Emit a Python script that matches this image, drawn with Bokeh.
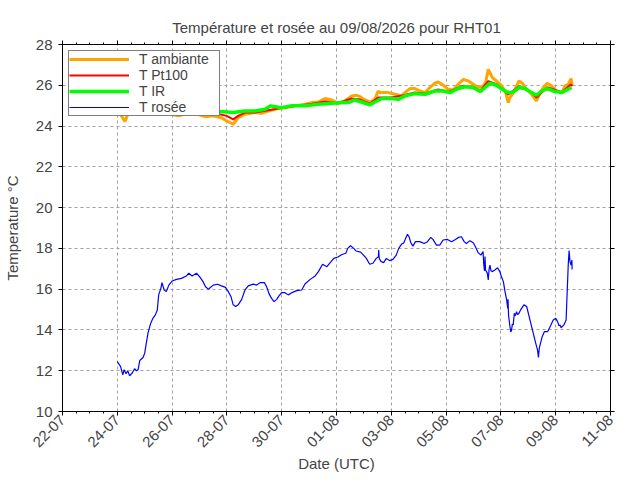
import math
import pandas as pd
from bokeh.plotting import figure
from bokeh.models import (ColumnDataSource, FixedTicker, DatetimeTickFormatter,
                          DatetimeAxis, LinearAxis, Range1d)
from bokeh.embed import file_html
from bokeh.resources import INLINE

# ---------------- data (days since 22-07-2026 00:00 UTC, °C) ----------------
base_date = "2026-07-22"

amb_days = [1.97, 2.05, 2.15, 2.28, 2.36, 2.45, 2.6, 2.8, 3.0, 3.2, 3.5, 3.74, 3.98,
            4.22, 4.47, 4.71, 4.95, 5.2, 5.5, 5.8, 5.99, 6.23, 6.41, 6.66, 7.02,
            7.26, 7.51, 7.87, 8.12, 8.48, 8.85, 9.09, 9.33, 9.58, 9.82, 10.06,
            10.3, 10.55, 10.73, 10.86, 11.04, 11.22, 11.4, 11.52, 11.58, 11.89,
            12.13, 12.38, 12.5, 12.68, 12.86, 13.05, 13.23, 13.41, 13.59, 13.71,
            13.9, 14.08, 14.26, 14.44, 14.63, 14.81, 14.99, 15.17, 15.36, 15.44,
            15.54, 15.6, 15.69, 15.84, 16.03, 16.17, 16.27, 16.33, 16.42, 16.51,
            16.66, 16.78, 16.94, 17.12, 17.3, 17.43, 17.55, 17.69, 17.85, 18.03,
            18.22, 18.34, 18.46, 18.56, 18.6]
amb_vals = [24.9, 24.74, 24.5, 24.22, 24.5, 24.8, 24.85, 24.85, 24.82, 24.8, 24.75,
            24.66, 24.58, 24.5, 24.58, 24.66, 24.58, 24.46, 24.5, 24.41, 24.25,
            24.09, 24.41, 24.58, 24.66, 24.63, 24.74, 24.86, 24.9, 24.99, 25.07,
            25.15, 25.18, 25.35, 25.28, 25.12, 25.23, 25.48, 25.51, 25.44, 25.28,
            25.18, 25.31, 25.72, 25.64, 25.64, 25.56, 25.48, 25.64, 25.84, 25.84,
            25.72, 25.64, 25.89, 26.1, 26.16, 26.0, 25.8, 25.77, 26.05, 26.29,
            26.21, 26.05, 25.89, 25.97, 26.13, 26.78, 26.62, 26.38, 26.21, 25.97,
            25.67, 25.15, 25.4, 25.56, 25.8, 26.21, 26.1, 25.8, 25.56, 25.23,
            25.64, 25.89, 26.1, 25.97, 25.72, 25.64, 25.97, 26.05, 26.33, 26.0]

pt_days = [1.97, 2.28, 2.45, 3.0, 3.74, 4.47, 4.95, 5.5, 5.99, 6.23, 6.41, 6.66,
           7.02, 7.51, 7.98, 8.48, 9.09, 9.58, 10.06, 10.55, 10.86, 11.22, 11.52,
           12.01, 12.5, 12.86, 13.23, 13.71, 14.08, 14.63, 14.99, 15.24, 15.54,
           15.84, 16.27, 16.66, 17.12, 17.3, 17.69, 18.22, 18.56, 18.6]
pt_vals = [24.85, 24.58, 24.75, 24.8, 24.75, 24.75, 24.7, 24.65, 24.5, 24.33,
           24.5, 24.66, 24.66, 24.78, 24.88, 24.98, 25.08, 25.2, 25.12, 25.35,
           25.3, 25.1, 25.4, 25.4, 25.52, 25.65, 25.6, 25.8, 25.68, 25.98, 25.92,
           25.72, 26.2, 26.05, 25.55, 25.95, 25.65, 25.4, 25.9, 25.66, 26.05, 25.95]

ir_days = [1.97, 2.2, 2.5, 3.0, 3.74, 4.47, 4.95, 5.5, 5.99, 6.23, 6.66, 7.02,
           7.39, 7.6, 7.98, 8.34, 8.85, 9.33, 9.82, 10.3, 10.43, 10.67, 10.91,
           11.22, 11.4, 11.65, 12.01, 12.25, 12.5, 12.86, 13.23, 13.59, 13.9,
           14.14, 14.44, 14.69, 14.99, 15.24, 15.42, 15.6, 15.84, 16.09, 16.27,
           16.45, 16.66, 16.88, 17.12, 17.3, 17.49, 17.69, 17.91, 18.22, 18.4, 18.58]
ir_vals = [24.85, 24.8, 24.85, 24.85, 24.82, 24.82, 24.82, 24.74, 24.69, 24.66,
           24.74, 24.74, 24.82, 24.99, 24.9, 24.99, 24.99, 25.07, 25.12, 25.15,
           25.15, 25.28, 25.18, 25.04, 25.18, 25.35, 25.35, 25.31, 25.48, 25.59,
           25.56, 25.72, 25.72, 25.64, 25.84, 25.93, 25.89, 25.69, 25.89, 26.1,
           26.0, 25.77, 25.64, 25.67, 25.89, 25.84, 25.64, 25.51, 25.72, 25.84,
           25.72, 25.64, 25.77, 25.89]

dew_days = [2.0, 2.12, 2.2, 2.25, 2.32, 2.38, 2.45, 2.55, 2.63, 2.7, 2.76, 2.82,
            2.94, 3.0, 3.06, 3.12, 3.22, 3.3, 3.39, 3.46, 3.51, 3.59, 3.63, 3.71,
            3.79, 3.88, 4.0, 4.16, 4.34, 4.52, 4.61, 4.73, 4.89, 5.01, 5.13, 5.22,
            5.32, 5.5, 5.66, 5.8, 5.95, 6.05, 6.15, 6.23, 6.32, 6.41, 6.54, 6.66,
            6.78, 6.96, 7.09, 7.21, 7.37, 7.45, 7.54, 7.63, 7.72, 7.82, 7.9, 8.0,
            8.12, 8.24, 8.37, 8.55, 8.73, 8.85, 9.04, 9.22, 9.34, 9.49, 9.65,
            9.77, 9.9, 10.05, 10.2, 10.34, 10.41, 10.51, 10.63, 10.72, 10.88,
            10.96, 11.09, 11.21, 11.33, 11.45, 11.53, 11.54, 11.56, 11.63, 11.72,
            11.82, 11.94, 12.06, 12.18, 12.27, 12.37, 12.46, 12.52, 12.59, 12.65,
            12.71, 12.79, 12.88, 13.04, 13.2, 13.32, 13.44, 13.52, 13.65, 13.77,
            13.89, 14.05, 14.2, 14.34, 14.46, 14.56, 14.66, 14.74, 14.87, 14.99,
            15.07, 15.17, 15.27, 15.35, 15.37, 15.4, 15.42, 15.44, 15.5, 15.54,
            15.57, 15.6, 15.64, 15.68, 15.78, 15.88, 15.96, 16.02, 16.09, 16.15,
            16.21, 16.25, 16.26, 16.28, 16.33, 16.36, 16.39, 16.42, 16.45, 16.49,
            16.53, 16.57, 16.61, 16.66, 16.73, 16.84, 16.94, 17.0, 17.06, 17.12,
            17.18, 17.24, 17.3, 17.34, 17.37, 17.4, 17.43, 17.51, 17.59, 17.71,
            17.83, 17.91, 18.0, 18.07, 18.12, 18.16, 18.2, 18.24, 18.3, 18.34,
            18.38, 18.41, 18.46, 18.49, 18.52, 18.56, 18.59, 18.6]
dew_vals = [12.45, 12.2, 11.8, 12.05, 11.85, 12.0, 11.75, 11.9, 12.1, 12.0, 12.05,
            12.5, 12.65, 12.86, 13.35, 13.84, 14.33, 14.57, 14.74, 14.98, 15.72,
            16.04, 16.32, 15.96, 15.88, 16.2, 16.4, 16.48, 16.53, 16.65, 16.78,
            16.65, 16.78, 16.6, 16.37, 16.12, 16.0, 16.2, 16.24, 16.16, 16.09,
            15.88, 15.63, 15.23, 15.15, 15.23, 15.5, 15.96, 16.16, 16.25, 16.2,
            16.32, 16.32, 16.12, 15.77, 15.55, 15.39, 15.5, 15.67, 15.83, 15.83,
            15.72, 15.83, 15.93, 15.96, 16.25, 16.48, 16.65, 16.86, 17.22, 17.1,
            17.3, 17.51, 17.58, 17.7, 17.76, 18.0, 18.13, 18.0, 17.87, 17.82,
            17.71, 17.51, 17.22, 17.27, 17.51, 17.59, 17.92, 17.5, 17.35, 17.3,
            17.51, 17.4, 17.46, 17.67, 18.0, 18.2, 18.28, 18.49, 18.69, 18.57,
            18.28, 18.11, 18.33, 18.33, 18.24, 18.33, 18.54, 18.44, 18.16, 18.16,
            18.41, 18.44, 18.33, 18.44, 18.54, 18.57, 18.33, 18.24, 18.38, 18.28,
            18.08, 17.79, 17.67, 17.84, 17.3, 16.9, 17.6, 16.94, 16.8, 16.45,
            17.0, 17.18, 16.9, 16.86, 16.94, 17.05, 16.86, 16.61, 16.37, 15.88,
            15.47, 15.06, 15.5, 14.7, 14.17, 13.9, 14.0, 14.3, 14.25, 14.82,
            14.7, 14.9, 14.75, 14.82, 15.01, 15.23, 15.15, 14.82, 14.49, 14.17,
            13.84, 13.51, 13.19, 13.0, 12.65, 13.1, 13.27, 13.68, 13.92, 13.92,
            14.25, 14.49, 14.57, 14.41, 14.2, 14.25, 14.1, 14.17, 14.25, 14.36,
            14.49, 15.55, 17.27, 17.89, 17.35, 17.18, 17.43, 16.97]

series_names = ["T ambiante", "T Pt100", "T IR", "T rosée"]
series_colors = ["#ffa500", "#ff0000", "#00ff00", "#0000ff"]
series_widths = [3, 2, 3.5, 1.2]

x_tick_days = list(range(0, 21, 2))
y_ticks = list(range(10, 29, 2))
title_text = "Température et rosée au 09/08/2026 pour RHT01"
xlabel = "Date (UTC)"
ylabel = "Temperature °C"

# ---------------- build ----------------
base = pd.Timestamp(base_date)


def to_ms(d):
    return (base + pd.Timedelta(days=d)).value / 1e6


def to_times(days):
    return [base + pd.Timedelta(days=d) for d in days]


FONT = "Liberation Sans"

p = figure(frame_width=548, frame_height=367, x_axis_type="datetime",
           output_backend="svg", toolbar_location=None,
           x_range=Range1d(to_ms(0), to_ms(20)), y_range=Range1d(10, 28),
           min_border_left=56, min_border_right=8, min_border_top=44,
           min_border_bottom=10)

p.title.text = title_text
p.title.align = "center"
p.title.text_font = FONT
p.title.text_font_size = "15px"
p.title.text_font_style = "normal"

xticker = FixedTicker(ticks=[to_ms(d) for d in x_tick_days],
                      minor_ticks=[to_ms(h / 2) for h in range(0, 41)])
fmt = DatetimeTickFormatter(days="%d-%m", months="%d-%m", hours="%d-%m",
                            hourmin="%d-%m", years="%d-%m")
yticker = FixedTicker(ticks=y_ticks)

xa = p.xaxis[0]
xa.ticker = xticker
xa.formatter = fmt
xa.major_label_orientation = math.pi / 4
xa.axis_label = xlabel
ya = p.yaxis[0]
ya.ticker = yticker
ya.axis_label = ylabel

for ax in (xa, ya):
    ax.major_label_text_font = FONT
    ax.major_label_text_font_size = "15px"
    ax.axis_label_text_font = FONT
    ax.axis_label_text_font_size = "15px"
    ax.axis_label_text_font_style = "normal"
    ax.major_tick_in = 0
    ax.major_tick_out = 4
    ax.minor_tick_in = 0
    ax.minor_tick_out = 2
    ax.axis_line_color = "black"
ya.minor_tick_line_color = None
ya.major_label_standoff = 6
xa.major_label_standoff = 2
xa.axis_label_standoff = 0
ya.axis_label_standoff = 12

top = DatetimeAxis(ticker=xticker, formatter=fmt, major_label_text_color=None,
                   major_tick_in=0, major_tick_out=4, minor_tick_in=0, minor_tick_out=2,
                   major_label_standoff=0)
right = LinearAxis(ticker=yticker, major_label_text_color=None,
                   major_tick_in=0, major_tick_out=4, minor_tick_line_color=None,
                   major_label_standoff=0)
p.add_layout(top, "above")
p.add_layout(right, "right")

for g in (p.xgrid[0], p.ygrid[0]):
    g.grid_line_color = "#a0a0a0"
    g.grid_line_dash = "3 3"
    g.grid_line_width = 1

p.outline_line_color = "black"
p.outline_line_width = 1

all_days = [amb_days, pt_days, ir_days, dew_days]
all_vals = [amb_vals, pt_vals, ir_vals, dew_vals]
for name, col, w, d, v in zip(series_names, series_colors, series_widths, all_days, all_vals):
    src = ColumnDataSource(dict(t=to_times(d), v=v))
    p.line("t", "v", source=src, color=col, line_width=w, legend_label=name)

lg = p.legend[0]
lg.location = "top_left"
lg.margin = 6
lg.padding = 0
lg.spacing = 0
lg.label_height = 10
lg.glyph_height = 10
lg.glyph_width = 60
lg.label_standoff = 10
lg.label_width = 80
lg.label_text_font = FONT
lg.label_text_font_size = "14px"
lg.label_text_line_height = 1.0
lg.border_line_color = "black"
lg.border_line_width = 1
lg.background_fill_alpha = 1

open("out.html", "w").write(file_html(p, INLINE))
